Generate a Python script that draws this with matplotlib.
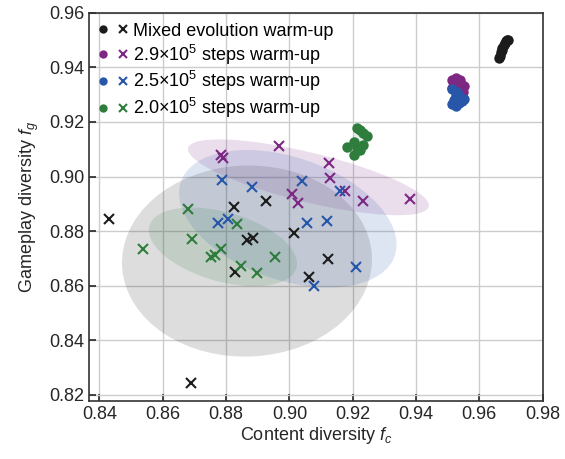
import matplotlib
matplotlib.use("Agg")
import matplotlib.pyplot as plt
from matplotlib.patches import Ellipse
from matplotlib.legend_handler import HandlerTuple
from matplotlib.lines import Line2D

plt.rcParams['font.family'] = ['Liberation Sans', 'DejaVu Sans']
plt.rcParams['mathtext.fontset'] = 'custom'
plt.rcParams['mathtext.rm'] = 'Liberation Sans'
plt.rcParams['mathtext.it'] = 'Liberation Sans:italic'

# crosses (x) per setting
mix_x_fc = [0.8431, 0.8689, 0.8826, 0.8925, 0.8867, 0.8884, 0.8827, 0.9013, 0.9063, 0.9121]
mix_x_fg = [0.8844, 0.8244, 0.8887, 0.8911, 0.8768, 0.8774, 0.8650, 0.8793, 0.8632, 0.8699]
s29_x_fc = [0.8783, 0.8789, 0.8968, 0.9007, 0.9026, 0.9126, 0.9128, 0.9176, 0.9234, 0.9381]
s29_x_fg = [0.9079, 0.9067, 0.9113, 0.8935, 0.8902, 0.9051, 0.8996, 0.8946, 0.8911, 0.8917]
s25_x_fc = [0.8786, 0.8883, 0.9041, 0.8776, 0.8805, 0.9057, 0.9118, 0.9161, 0.9211, 0.9077]
s25_x_fg = [0.8988, 0.8963, 0.8984, 0.8829, 0.8844, 0.8829, 0.8838, 0.8946, 0.8668, 0.8600]
s20_x_fc = [0.8539, 0.8679, 0.8691, 0.8751, 0.8765, 0.8783, 0.8835, 0.8848, 0.8897, 0.8955]
s20_x_fg = [0.8734, 0.8882, 0.8771, 0.8705, 0.8711, 0.8735, 0.8826, 0.8671, 0.8646, 0.8704]

# dots per setting
mix_o_fc = [0.9690, 0.9685, 0.9678, 0.9672, 0.9668, 0.9665, 0.9670, 0.9680, 0.9663, 0.9688]
mix_o_fg = [0.9500, 0.9495, 0.9482, 0.9470, 0.9455, 0.9440, 0.9462, 0.9490, 0.9435, 0.9502]
s29_o_fc = [0.9515, 0.9540, 0.9530, 0.9550, 0.9512, 0.9525, 0.9548, 0.9520, 0.9535, 0.9545]
s29_o_fg = [0.9355, 0.9352, 0.9340, 0.9330, 0.9325, 0.9362, 0.9310, 0.9320, 0.9345, 0.9335]
s25_o_fc = [0.9515, 0.9525, 0.9520, 0.9540, 0.9535, 0.9515, 0.9545, 0.9530, 0.9550, 0.9525]
s25_o_fg = [0.9320, 0.9300, 0.9280, 0.9290, 0.9270, 0.9265, 0.9275, 0.9310, 0.9285, 0.9260]
s20_o_fc = [0.9224, 0.9245, 0.9234, 0.9213, 0.9182, 0.9203, 0.9213, 0.9234, 0.9203, 0.9224]
s20_o_fg = [0.9171, 0.9147, 0.9116, 0.9104, 0.9110, 0.9079, 0.9177, 0.9159, 0.9128, 0.9098]

labels = ['Mixed evolution warm-up',
          r'2.9$\times$10$^5$ steps warm-up',
          r'2.5$\times$10$^5$ steps warm-up',
          r'2.0$\times$10$^5$ steps warm-up']
colors = ['#1c1c1c', '#7d2883', '#2857aa', '#2e7d3c']

# ellipses: (center_fc, center_fg, width, height, angle)
ell_x = [(0.8866, 0.8690, 0.079, 0.070, 4),
         (0.9060, 0.8997, 0.079, 0.018, -16),
         (0.8995, 0.8845, 0.073, 0.044, -25),
         (0.8790, 0.8742, 0.049, 0.025, -20)]
ell_o = [(0.9677, 0.9469, 0.0075, 0.0022, 68),
         (0.9531, 0.9337, 0.004, 0.005, 0),
         (0.9531, 0.9285, 0.004, 0.006, 0),
         (0.9213, 0.9128, 0.0105, 0.0035, 75)]

xs_fc = [mix_x_fc, s29_x_fc, s25_x_fc, s20_x_fc]
xs_fg = [mix_x_fg, s29_x_fg, s25_x_fg, s20_x_fg]
os_fc = [mix_o_fc, s29_o_fc, s25_o_fc, s20_o_fc]
os_fg = [mix_o_fg, s29_o_fg, s25_o_fg, s20_o_fg]

fig = plt.figure(figsize=(5.65, 4.59), dpi=100)
ax = fig.add_axes([0.1575, 0.127, 0.803, 0.845])

for i in range(4):
    e = ell_x[i]
    ax.add_patch(Ellipse((e[0], e[1]), e[2], e[3], angle=e[4],
                         facecolor=colors[i], alpha=0.15, edgecolor='none', zorder=1))
    e = ell_o[i]
    ax.add_patch(Ellipse((e[0], e[1]), e[2], e[3], angle=e[4],
                         facecolor=colors[i], alpha=0.12, edgecolor='none', zorder=1))

handles = []
for i in range(4):
    ax.plot(xs_fc[i], xs_fg[i], 'x', color=colors[i], ms=6.5, mew=1.5, zorder=3)
    ax.plot(os_fc[i], os_fg[i], 'o', color=colors[i], ms=7.5, mew=0, zorder=3)
    h1 = Line2D([], [], marker='o', ls='none', color=colors[i], ms=6, mew=0)
    h2 = Line2D([], [], marker='x', ls='none', color=colors[i], ms=6, mew=1.5)
    handles.append((h1, h2))

ax.legend(handles, labels, handler_map={tuple: HandlerTuple(ndivide=None, pad=0.6)},
          loc='upper left', frameon=False, fontsize=13, handlelength=1.6,
          handletextpad=0.3, labelspacing=0.15, borderaxespad=0.15,
          bbox_to_anchor=(0.0, 1.0))

ax.set_xlim(0.8367, 0.98)
ax.set_ylim(0.8178, 0.96)
ax.set_xticks([0.84, 0.86, 0.88, 0.90, 0.92, 0.94, 0.96, 0.98])
ax.set_yticks([0.82, 0.84, 0.86, 0.88, 0.90, 0.92, 0.94, 0.96])
ax.grid(True, color='#cccccc', lw=1, zorder=0)
ax.set_axisbelow(True)
ax.tick_params(direction='in', length=5, width=1.2, labelsize=13, colors='#262626')
for s in ax.spines.values():
    s.set_color('#333333')
    s.set_linewidth(1.2)
ax.set_xlabel('Content diversity $f_c$', fontsize=13, color='#262626', labelpad=2)
ax.set_ylabel('Gameplay diversity $f_g$', fontsize=13, color='#262626', labelpad=6)

fig.savefig('out.png', dpi=100)
